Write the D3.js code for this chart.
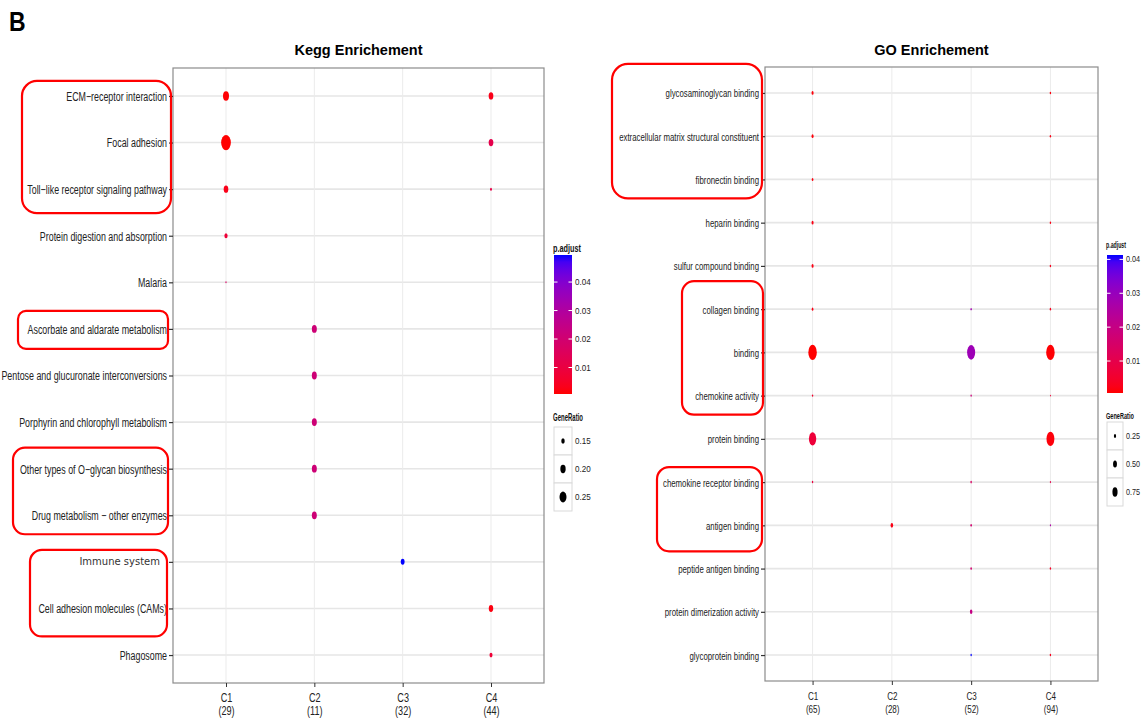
<!DOCTYPE html>
<html><head><meta charset="utf-8">
<script src="https://cdn.jsdelivr.net/npm/d3@7/dist/d3.min.js"></script>
<style>body{margin:0;background:#fff}svg{display:block}</style>
</head><body><svg id="c" width="1143" height="721"></svg>
<script>
// ---------- KEGG panel data ----------
const keggTerms = ["ECM−receptor interaction","Focal adhesion","Toll−like receptor signaling pathway","Protein digestion and absorption","Malaria","Ascorbate and aldarate metabolism","Pentose and glucuronate interconversions","Porphyrin and chlorophyll metabolism","Other types of O−glycan biosynthesis","Drug metabolism − other enzymes","Immune system","Cell adhesion molecules (CAMs)","Phagosome"];
const keggClusters = ["C1","C2","C3","C4"];
const keggClusterN = ["(29)","(11)","(32)","(44)"];
// [term, cluster, GeneRatio, p.adjust]
const keggPoints = [
  ["ECM−receptor interaction","C1",0.22,0.001],
  ["ECM−receptor interaction","C4",0.182,0.003],
  ["Focal adhesion","C1",0.345,0.0007],
  ["Focal adhesion","C4",0.182,0.012],
  ["Toll−like receptor signaling pathway","C1",0.18,0.003],
  ["Toll−like receptor signaling pathway","C4",0.115,0.011],
  ["Protein digestion and absorption","C1",0.145,0.008],
  ["Malaria","C1",0.10,0.017],
  ["Ascorbate and aldarate metabolism","C2",0.19,0.021],
  ["Pentose and glucuronate interconversions","C2",0.19,0.021],
  ["Porphyrin and chlorophyll metabolism","C2",0.19,0.021],
  ["Other types of O−glycan biosynthesis","C2",0.19,0.021],
  ["Drug metabolism − other enzymes","C2",0.19,0.021],
  ["Immune system","C3",0.16,0.0495],
  ["Cell adhesion molecules (CAMs)","C4",0.175,0.002],
  ["Phagosome","C4",0.14,0.008]
];
const keggColorTicks = [0.01,0.02,0.03,0.04];
const keggSizeBreaks = [0.15,0.20,0.25];
const keggBoxes = [ // [first term, last term, left, right, padTop, padBottom, radius]
  ["ECM−receptor interaction","Toll−like receptor signaling pathway",22,171,15,24,15],
  ["Ascorbate and aldarate metabolism","Ascorbate and aldarate metabolism",18,168,18,20,8],
  ["Other types of O−glycan biosynthesis","Drug metabolism − other enzymes",13,168,21,19,12],
  ["Immune system","Cell adhesion molecules (CAMs)",30,167,12,28,12]
];

// ---------- GO panel data ----------
const goTerms = ["glycosaminoglycan binding","extracellular matrix structural constituent","fibronectin binding","heparin binding","sulfur compound binding","collagen binding","binding","chemokine activity","protein binding","chemokine receptor binding","antigen binding","peptide antigen binding","protein dimerization activity","glycoprotein binding"];
const goClusters = ["C1","C2","C3","C4"];
const goClusterN = ["(65)","(28)","(52)","(94)"];
const goPoints = [
  ["glycosaminoglycan binding","C1",0.046,0.0012],
  ["glycosaminoglycan binding","C4",0.021,0.0015],
  ["extracellular matrix structural constituent","C1",0.046,0.0012],
  ["extracellular matrix structural constituent","C4",0.021,0.002],
  ["fibronectin binding","C1",0.031,0.0015],
  ["heparin binding","C1",0.046,0.002],
  ["heparin binding","C4",0.021,0.002],
  ["sulfur compound binding","C1",0.046,0.002],
  ["sulfur compound binding","C4",0.021,0.003],
  ["collagen binding","C1",0.031,0.002],
  ["collagen binding","C3",0.019,0.028],
  ["collagen binding","C4",0.021,0.003],
  ["binding","C1",0.77,0.00056],
  ["binding","C3",0.69,0.029],
  ["binding","C4",0.77,0.0008],
  ["chemokine activity","C1",0.02,0.005],
  ["chemokine activity","C3",0.019,0.018],
  ["chemokine activity","C4",0.0106,0.006],
  ["protein binding","C1",0.58,0.007],
  ["protein binding","C4",0.67,0.0012],
  ["chemokine receptor binding","C1",0.02,0.008],
  ["chemokine receptor binding","C3",0.025,0.014],
  ["chemokine receptor binding","C4",0.016,0.01],
  ["antigen binding","C2",0.071,0.002],
  ["antigen binding","C3",0.025,0.016],
  ["antigen binding","C4",0.016,0.026],
  ["peptide antigen binding","C3",0.025,0.016],
  ["peptide antigen binding","C4",0.021,0.004],
  ["protein dimerization activity","C3",0.067,0.02],
  ["glycoprotein binding","C3",0.019,0.0413],
  ["glycoprotein binding","C4",0.021,0.003]
];
const goColorTicks = [0.01,0.02,0.03,0.04];
const goSizeBreaks = [0.25,0.50,0.75];
const goBoxes = [
  ["glycosaminoglycan binding","fibronectin binding",612,762,29,19,16],
  ["collagen binding","chemokine activity",682,763,28,19,12],
  ["chemokine receptor binding","antigen binding",657,762,15,26,12]
];

const FONT = '"Liberation Sans", Arial, sans-serif';
const svg = d3.select("#c");
svg.append("rect").attr("width",1143).attr("height",721).attr("fill","#fff");

function sqText(g, x, y, txt, o) {
  return g.append("text")
    .attr("transform", `translate(${x},${y}) scale(${o.sx||1},1)`)
    .attr("text-anchor", o.anchor || "start")
    .attr("font-family", o.family || FONT)
    .attr("font-size", o.size)
    .attr("font-weight", o.weight || "normal")
    .attr("fill", o.fill || "#222")
    .attr("dy", o.dy || null)
    .text(txt);
}

svg.call(s => sqText(s, 9, 31, "B", {size: 28, weight: "bold", sx: 0.82, fill: "#000"}));

let gid = 0;
function drawPanel(o) {
  const g = svg.append("g");
  const x = d3.scalePoint().domain(o.clusters).range([o.x0, o.x1]).padding(0.6);
  const y = d3.scalePoint().domain(o.terms).range([o.y0, o.y1]).padding(0.6);
  const color = d3.scaleLinear().domain(d3.extent(o.points, d => d[3]))
    .range(["#ff0000", "#0000ff"]).interpolate(d3.interpolateLab);
  const size = d3.scaleSqrt().domain(d3.extent(o.points, d => d[2])).range(o.rRange);

  // grid
  g.append("g").selectAll("line").data(o.terms).join("line")
    .attr("x1", o.x0).attr("x2", o.x1).attr("y1", d => y(d)).attr("y2", d => y(d))
    .attr("stroke", "#e6e6e6").attr("stroke-width", 1.6);
  g.append("g").selectAll("line").data(o.clusters).join("line")
    .attr("x1", d => x(d)).attr("x2", d => x(d)).attr("y1", o.y0).attr("y2", o.y1)
    .attr("stroke", "#ebebeb").attr("stroke-width", 1);

  // points
  g.append("g").selectAll("ellipse").data(o.points).join("ellipse")
    .attr("cx", d => x(d[1])).attr("cy", d => y(d[0]))
    .attr("ry", d => size(d[2])).attr("rx", d => size(d[2]) * o.aspect)
    .attr("fill", d => color(d[3]));

  // border
  g.append("rect").attr("x", o.x0).attr("y", o.y0)
    .attr("width", o.x1 - o.x0).attr("height", o.y1 - o.y0)
    .attr("fill", "none").attr("stroke", "#8c8c8c").attr("stroke-width", 1.2);

  // y axis
  const ya = g.append("g").attr("transform", `translate(${o.x0},0)`)
    .call(d3.axisLeft(y).tickSize(4).tickPadding(0));
  ya.select(".domain").remove();
  ya.selectAll(".tick line").attr("stroke", "#333").attr("stroke-width", 1.2);
  ya.selectAll(".tick text")
    .attr("x", 0).attr("dy", "0.35em")
    .attr("font-family", FONT).attr("font-size", o.tf).attr("fill", "#222")
    .attr("transform", `translate(-6,0) scale(${o.ts},1)`);
  if (o.special) {
    ya.selectAll(".tick text").filter(d => d === o.special)
      .attr("font-family", '"DejaVu Sans", sans-serif').attr("font-size", 10)
      .attr("fill", "#333").attr("transform", "translate(-13,-1)");
  }

  // x axis
  const xa = g.append("g").attr("transform", `translate(0,${o.y1})`)
    .call(d3.axisBottom(x).tickSize(4).tickPadding(0));
  xa.select(".domain").remove();
  xa.selectAll(".tick line").attr("stroke", "#333");
  xa.selectAll(".tick text").each(function (d, i) {
    const t = d3.select(this);
    t.text(null).attr("y", 0).attr("dy", null)
      .attr("font-family", FONT).attr("font-size", o.xf).attr("fill", "#222")
      .attr("transform", `translate(0,18.5) scale(${o.xs},1)`);
    t.append("tspan").attr("x", 0).attr("y", 0).text(d);
    t.append("tspan").attr("x", 0).attr("y", 14).text(o.counts[i]);
  });

  // title
  g.append("text").attr("x", (o.x0 + o.x1) / 2).attr("y", 55).attr("text-anchor", "middle")
    .attr("font-family", FONT).attr("font-size", 14.5).attr("font-weight", "bold")
    .attr("fill", "#000").text(o.title);

  // annotation boxes
  g.append("g").selectAll("rect").data(o.boxes).join("rect")
    .attr("x", d => d[2]).attr("width", d => d[3] - d[2])
    .attr("y", d => y(d[0]) - d[4]).attr("height", d => y(d[1]) + d[5] - (y(d[0]) - d[4]))
    .attr("rx", d => d[6]).attr("ry", d => d[6])
    .attr("fill", "none").attr("stroke", "#ff0000").attr("stroke-width", 2.2);

  // ---- legend: colorbar ----
  const L = o.legend;
  const lg = svg.append("g");
  sqText(lg, L.x - 1, L.t1y, "p.adjust", {size: L.tf, weight: "bold", sx: L.t1s, fill: "#111"});
  const id = "grad" + (gid++);
  const dom = color.domain();
  const grad = svg.append("defs").append("linearGradient").attr("id", id)
    .attr("x1", 0).attr("x2", 0).attr("y1", 1).attr("y2", 0);
  d3.range(0, 1.0001, 0.05).forEach(t => {
    grad.append("stop").attr("offset", t).attr("stop-color", color(dom[0] + t * (dom[1] - dom[0])));
  });
  lg.append("rect").attr("x", L.x).attr("y", L.by0).attr("width", L.bw).attr("height", L.by1 - L.by0)
    .attr("fill", `url(#${id})`);
  const cy = d3.scaleLinear().domain(dom).range([L.by1, L.by0]);
  const ticks = lg.append("g").selectAll("g").data(o.colorTicks).join("g")
    .attr("transform", d => `translate(0,${cy(d)})`);
  ticks.append("line").attr("x1", L.x).attr("x2", L.x + 3.5).attr("stroke", "#fff");
  ticks.append("line").attr("x1", L.x + L.bw - 3.5).attr("x2", L.x + L.bw).attr("stroke", "#fff");
  ticks.each(function (d) {
    sqText(d3.select(this), L.x + L.bw + 3, 0, d.toFixed(2), {size: L.lf, sx: 0.85, dy: "0.35em"});
  });

  // ---- legend: size ----
  sqText(lg, L.x - 1, L.t2y, "GeneRatio", {size: L.tf, weight: "bold", sx: L.t2s, fill: "#111"});
  const ks = o.legendSize || size;
  const keys = lg.append("g").selectAll("g").data(o.sizeBreaks).join("g")
    .attr("transform", (d, i) => `translate(0,${L.ky + i * L.kh})`);
  keys.append("rect").attr("x", L.x).attr("y", 0).attr("width", L.bw).attr("height", L.kh)
    .attr("fill", "#fff").attr("stroke", "#d9d9d9").attr("stroke-width", 1);
  keys.append("ellipse").attr("cx", L.x + L.bw / 2).attr("cy", L.kh / 2)
    .attr("ry", d => ks(d)).attr("rx", d => ks(d) * o.aspect).attr("fill", "#000");
  keys.each(function (d) {
    sqText(d3.select(this), L.x + L.bw + 3, L.kh / 2, d.toFixed(2), {size: L.lf, sx: 0.85, dy: "0.35em"});
  });
}

drawPanel({
  terms: keggTerms, clusters: keggClusters, counts: keggClusterN, points: keggPoints,
  colorTicks: keggColorTicks, sizeBreaks: keggSizeBreaks, boxes: keggBoxes,
  x0: 173, x1: 544, y0: 68, y1: 683, title: "Kegg Enrichement",
  tf: 12.5, ts: 0.71, xf: 12, xs: 0.76, aspect: 0.64, rRange: [0.95, 7.6],
  special: "Immune system",
  legend: {x: 554, bw: 18, by0: 255, by1: 394, t1y: 252, t1s: 0.73, t2y: 421, t2s: 0.6,
           tf: 10, lf: 9.5, ky: 427, kh: 28}
});

drawPanel({
  terms: goTerms, clusters: goClusters, counts: goClusterN, points: goPoints,
  colorTicks: goColorTicks, sizeBreaks: goSizeBreaks, boxes: goBoxes,
  x0: 765, x1: 1098, y0: 67, y1: 681, title: "GO Enrichement",
  tf: 11.5, ts: 0.68, xf: 11.5, xs: 0.7, aspect: 0.55, rRange: [0.9, 7.7],
  legendSize: d3.scaleSqrt().domain([0.25, 0.75]).range([2.0, 4.7]),
  legend: {x: 1107, bw: 16, by0: 255, by1: 393, t1y: 248, t1s: 0.58, t2y: 419, t2s: 0.62,
           tf: 9, lf: 8.5, ky: 422, kh: 28}
});
</script></body></html>
